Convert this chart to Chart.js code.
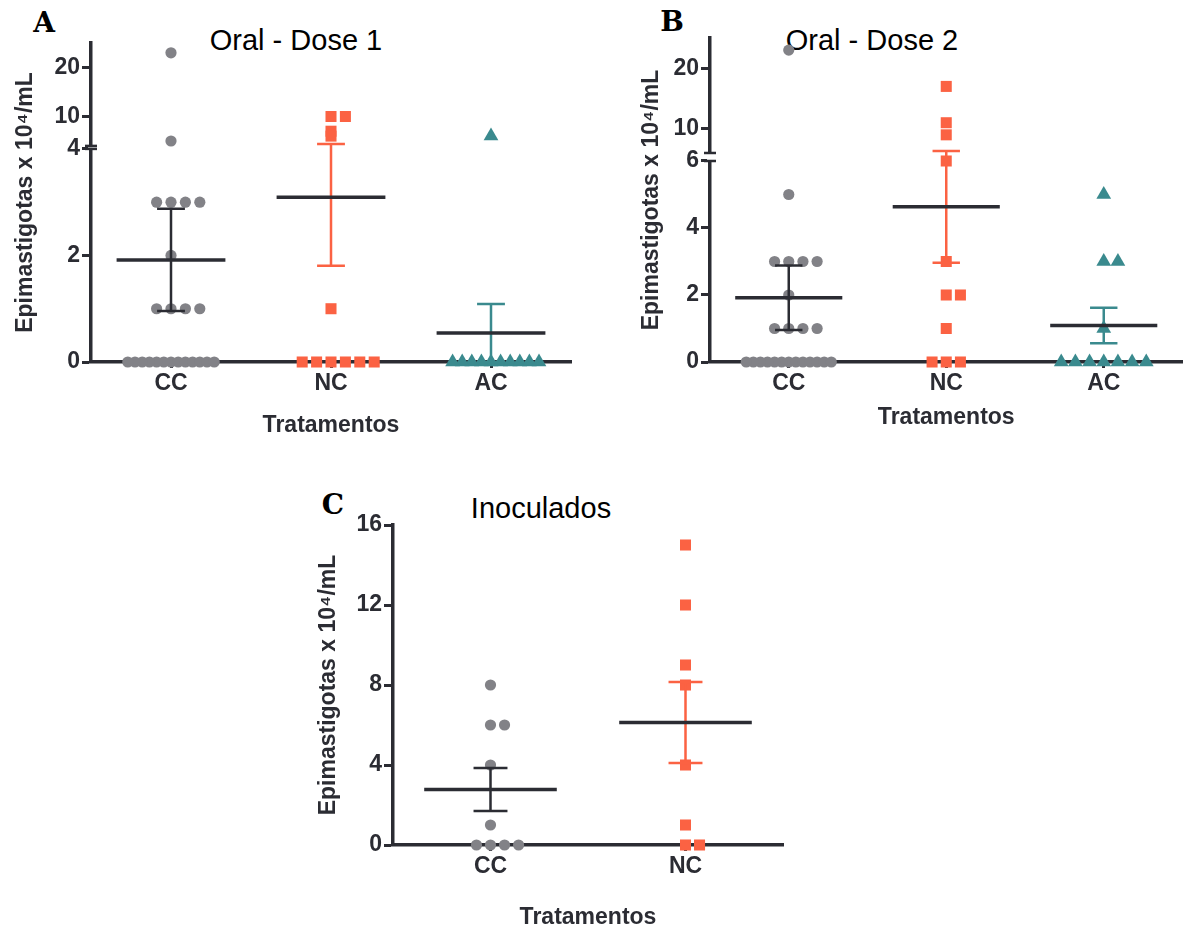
<!DOCTYPE html>
<html>
<head>
<meta charset="utf-8">
<script src="https://cdn.jsdelivr.net/npm/chart.js@4.4.1/dist/chart.umd.min.js"></script>
<style>
  html, body { margin: 0; padding: 0; background: #fff; overflow: hidden; width: 1191px; height: 929px; }
  canvas { position: absolute; }
  .lbl { position: absolute; transform: translate(-50%, -50%); white-space: nowrap; line-height: 1; }
  .letter { font-family: 'DejaVu Serif', serif; font-weight: bold; font-size: 28px; color: #000; }
  .ttl { font-family: 'Liberation Sans', Arial, sans-serif; font-size: 29px; color: #000; }
</style>
</head>
<body>
<div class="lbl letter" style="left:44px;top:23px">A</div>
<div class="lbl ttl" style="left:296px;top:40px">Oral - Dose 1</div>
<div class="lbl letter" style="left:672px;top:22px">B</div>
<div class="lbl ttl" style="left:872px;top:40px">Oral - Dose 2</div>
<div class="lbl letter" style="left:333px;top:505px">C</div>
<div class="lbl ttl" style="left:541px;top:508px">Inoculados</div>

<canvas id="chartA" width="600" height="429" style="left:-9px;top:23px"></canvas>
<canvas id="chartB" width="581" height="434" style="left:610px;top:18px"></canvas>
<canvas id="chartC" width="510" height="430" style="left:293px;top:505px"></canvas>

<script>
// values, one entry per animal (x 10^4 epimastigotas/mL)
const groupsAB = ['CC', 'NC', 'AC'];
const groupsC = ['CC', 'NC'];

const dose1CC = [23, 5, 3, 3, 3, 3, 2, 1, 1, 1, 1, 0, 0, 0, 0, 0, 0, 0, 0, 0, 0, 0, 0, 0];
const dose1NC = [10, 10, 7, 6, 1, 0, 0, 0, 0, 0, 0];
const dose1AC = [6, 0, 0, 0, 0, 0, 0, 0, 0, 0, 0];

const dose2CC = [23, 5, 3, 3, 3, 3, 2, 1, 1, 1, 1, 0, 0, 0, 0, 0, 0, 0, 0, 0, 0, 0, 0, 0];
const dose2NC = [17, 11, 9, 6, 3, 2, 2, 1, 0, 0, 0];
const dose2AC = [5, 3, 3, 1, 0, 0, 0, 0, 0, 0, 0];

const inocCC = [8, 6, 6, 4, 1, 0, 0, 0, 0];
const inocNC = [15, 12, 9, 8, 4, 1, 0, 0];

const yTicksA = [0, 2, 4, 10, 20];
const yTicksB = [0, 2, 4, 6, 10, 20];
const yTicksC = [0, 4, 8, 12, 16];

const DARK = '#2b2c33';
const GREY = '#828287';
const ORANGE = '#fb6243';
const TEAL = '#3a8a8e';
const FONT = "'Liberation Sans', Arial, sans-serif";

Chart.defaults.font.family = FONT;
Chart.defaults.color = DARK;

// y axis with a break: lower part 0..breakAt, upper part breakAt..max
class BrokenScale extends Chart.LinearScale {
    segments() {
        const h = this.bottom - this.top;
        const lowTop = this.bottom - this.options.lowFrac * h;
        const highBottom = lowTop - this.options.gapFrac * h;
        return { lowTop: lowTop, highBottom: highBottom };
    }
    getPixelForValue(value) {
        if (value === null || value === undefined || isNaN(value)) return NaN;
        const cut = this.options.breakAt;
        const seg = this.segments();
        if (value <= cut) {
            return this.bottom - (value - this.min) / (cut - this.min) * (this.bottom - seg.lowTop);
        }
        return seg.highBottom - (value - cut) / (this.max - cut) * (seg.highBottom - this.top);
    }
    getValueForPixel(pixel) {
        const cut = this.options.breakAt;
        const seg = this.segments();
        if (pixel >= seg.lowTop) {
            return this.min + (this.bottom - pixel) / (this.bottom - seg.lowTop) * (cut - this.min);
        }
        return cut + (seg.highBottom - pixel) / (seg.highBottom - this.top) * (this.max - cut);
    }
}
BrokenScale.id = 'broken';
BrokenScale.defaults = Chart.LinearScale.defaults;
Chart.register(BrokenScale);

const breakMarks = {
    id: 'breakMarks',
    afterDraw(chart) {
        const y = chart.scales.y;
        if (!(y instanceof BrokenScale)) return;
        const seg = y.segments();
        const ctx = chart.ctx;
        const x = chart.chartArea.left;
        ctx.save();
        ctx.fillStyle = '#fff';
        ctx.fillRect(x - 3, seg.highBottom + 1, 6, seg.lowTop - seg.highBottom - 2);
        ctx.strokeStyle = DARK;
        ctx.lineWidth = 2.5;
        [seg.highBottom, seg.lowTop].forEach(function(py) {
            ctx.beginPath();
            ctx.moveTo(x - 6, py);
            ctx.lineTo(x + 6, py);
            ctx.stroke();
        });
        ctx.restore();
    }
};

function meanSem(values) {
    const n = values.length;
    const mean = values.reduce((a, b) => a + b, 0) / n;
    const sd = Math.sqrt(values.reduce((a, v) => a + (v - mean) * (v - mean), 0) / (n - 1));
    return { mean: mean, sem: sd / Math.sqrt(n) };
}

// equal values are laid side by side: 0, +1, -1, +2, -2 ...
function spread(values, center, step, maxWidth) {
    const counts = {};
    values.forEach(v => counts[v] = (counts[v] || 0) + 1);
    const seen = {};
    return values.map(v => {
        const k = seen[v] || 0;
        seen[v] = k + 1;
        const m = counts[v];
        const s = m > 1 ? Math.min(step, maxWidth / (m - 1)) : step;
        const slot = k === 0 ? 0 : (k % 2 ? (k + 1) / 2 : -k / 2);
        return { x: center + slot * s, y: v };
    });
}

function buildDatasets(groups, styles, step, maxWidth) {
    let ds = [];
    groups.forEach(function(vals, i) {
        const st = styles[i];
        const s = meanSem(vals);
        const hi = s.mean + s.sem;
        const lo = s.mean - s.sem;
        const cap = 0.087;
        ds.push({
            data: [{ x: i - 0.34, y: s.mean }, { x: i + 0.34, y: s.mean }],
            showLine: true, borderColor: DARK, borderWidth: 3.5, pointRadius: 0,
            clip: false, order: 1
        });
        ds.push({
            data: [
                { x: i - cap, y: hi }, { x: i + cap, y: hi }, { x: i, y: null },
                { x: i, y: hi }, { x: i, y: lo }, { x: i, y: null },
                { x: i - cap, y: lo }, { x: i + cap, y: lo }
            ],
            showLine: true, borderColor: st.bar, borderWidth: 2.5, pointRadius: 0,
            clip: false, order: 2
        });
        ds.push({
            data: spread(vals, i, step, maxWidth),
            pointStyle: st.shape, pointRadius: st.r, pointHoverRadius: st.r,
            backgroundColor: st.color, borderWidth: 0,
            clip: false, order: 3
        });
    });
    return ds;
}

function makeChart(id, opts) {
    const yScale = {
        type: opts.yType,
        min: opts.yMin,
        max: opts.yMax,
        afterBuildTicks: function(s) { s.ticks = opts.yTicks.map(v => ({ value: v })); },
        afterFit: function(s) { s.width = 100; },
        border: { display: true, color: DARK, width: 3.5 },
        grid: { display: true, drawOnChartArea: false, drawTicks: true, tickLength: 9, tickWidth: 3, tickColor: DARK },
        ticks: { padding: 2, color: DARK, font: { size: 23, weight: 'bold' } },
        title: {
            display: true, text: 'Epimastigotas x 10⁴/mL', color: DARK,
            font: { size: 23, weight: 'bold' }, padding: { top: opts.yTitlePad, bottom: 0 }
        }
    };
    if (opts.brk) {
        yScale.breakAt = opts.brk.breakAt;
        yScale.lowFrac = opts.brk.lowFrac;
        yScale.gapFrac = opts.brk.gapFrac;
    }
    return new Chart(document.getElementById(id), {
        type: 'scatter',
        data: { datasets: buildDatasets(opts.groups, opts.styles, opts.step, opts.maxWidth) },
        options: {
            responsive: false,
            animation: false,
            devicePixelRatio: 1,
            layout: { padding: { top: 20, right: opts.padRight, left: 0, bottom: 0 } },
            plugins: { legend: { display: false }, tooltip: { enabled: false } },
            scales: {
                x: {
                    type: 'linear',
                    min: -0.5,
                    max: opts.names.length - 0.5,
                    afterBuildTicks: function(s) { s.ticks = opts.names.map((n, i) => ({ value: i })); },
                    afterFit: function(s) { s.height = 90; },
                    border: { display: true, color: DARK, width: 3.5 },
                    grid: { display: true, drawOnChartArea: false, drawTicks: true, tickLength: 6, tickWidth: 3, tickColor: DARK },
                    ticks: {
                        padding: 2, color: DARK, font: { size: 23, weight: 'bold' },
                        callback: function(v) { return opts.names[Math.round(v)]; }
                    },
                    title: {
                        display: true, text: 'Tratamentos', color: DARK,
                        font: { size: 23, weight: 'bold' }, padding: { top: 0, bottom: opts.xTitlePad }
                    }
                },
                y: yScale
            }
        },
        plugins: [breakMarks]
    });
}

const styleCC = { shape: 'circle', r: 5.6, color: GREY, bar: DARK };
const styleNC = { shape: 'rect', r: 7.8, color: ORANGE, bar: ORANGE };
const styleAC = { shape: 'triangle', r: 8.5, color: TEAL, bar: TEAL };

makeChart('chartA', {
    names: groupsAB,
    groups: [dose1CC, dose1NC, dose1AC],
    styles: [styleCC, styleNC, styleAC],
    step: 0.09, maxWidth: 0.54,
    yType: 'broken', yMin: 0, yMax: 25, yTicks: yTicksA,
    brk: { breakAt: 4, lowFrac: 0.668, gapFrac: 0.0094 },
    yTitlePad: 21, xTitlePad: 13, padRight: 20
});

makeChart('chartB', {
    names: groupsAB,
    groups: [dose2CC, dose2NC, dose2AC],
    styles: [styleCC, styleNC, styleAC],
    step: 0.09, maxWidth: 0.54,
    yType: 'broken', yMin: 0, yMax: 25, yTicks: yTicksB,
    brk: { breakAt: 6, lowFrac: 0.6204, gapFrac: 0.0247 },
    yTitlePad: 28, xTitlePad: 21, padRight: 3
});

makeChart('chartC', {
    names: groupsC,
    groups: [inocCC, inocNC],
    styles: [styleCC, styleNC],
    step: 0.072, maxWidth: 0.44,
    yType: 'linear', yMin: 0, yMax: 16, yTicks: yTicksC,
    yTitlePad: 22, xTitlePad: 4, padRight: 20
});
</script>
</body>
</html>
